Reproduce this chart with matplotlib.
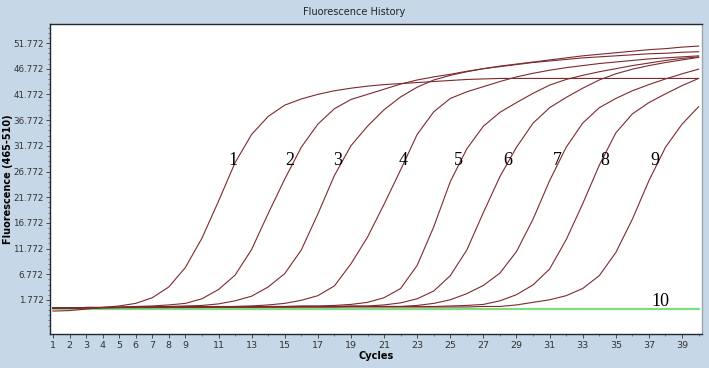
import numpy as np
import matplotlib.pyplot as plt
from matplotlib.ticker import MultipleLocator, FixedLocator

# data (cycle 1..40)
cycles = list(range(1, 41))

curve1 = [-0.4, -0.3, 0.0, 0.3, 0.6, 1.1, 2.2, 4.3, 8.1, 13.8, 21.0, 28.5, 34.0, 37.5, 39.7,
          40.9, 41.8, 42.5, 43.0, 43.4, 43.7, 43.9, 44.1, 44.3, 44.5, 44.7, 44.8, 44.9, 44.9,
          44.9, 44.9, 44.9, 44.9, 44.9, 44.9, 44.9, 44.9, 44.9, 44.9, 44.9]
curve2 = [0.2, 0.2, 0.3, 0.3, 0.4, 0.5, 0.6, 0.8, 1.1, 2.0, 3.8, 6.6, 11.6, 18.6, 25.3, 31.5,
          36.0, 39.0, 40.8, 41.8, 42.8, 43.8, 44.6, 45.2, 45.7, 46.3, 46.8, 47.3, 47.7, 48.1,
          48.5, 48.9, 49.3, 49.6, 49.9, 50.2, 50.5, 50.7, 51.0, 51.2]
curve3 = [0.2, 0.2, 0.3, 0.3, 0.3, 0.4, 0.4, 0.5, 0.6, 0.7, 1.0, 1.6, 2.5, 4.3, 6.9, 11.5,
          18.5, 26.0, 31.8, 35.6, 38.8, 41.3, 43.2, 44.6, 45.5, 46.2, 46.8, 47.2, 47.6, 48.0,
          48.3, 48.6, 48.9, 49.1, 49.3, 49.5, 49.7, 49.8, 50.0, 50.1]
curve4 = [0.2, 0.2, 0.3, 0.3, 0.3, 0.4, 0.4, 0.4, 0.4, 0.5, 0.5, 0.5, 0.6, 0.8, 1.1, 1.7,
          2.6, 4.5, 8.8, 14.0, 20.4, 27.1, 34.0, 38.4, 41.0, 42.3, 43.3, 44.3, 45.2, 45.9,
          46.5, 47.0, 47.4, 47.8, 48.1, 48.4, 48.7, 48.9, 49.1, 49.3]
curve5 = [0.2, 0.2, 0.3, 0.3, 0.3, 0.3, 0.4, 0.4, 0.4, 0.4, 0.4, 0.5, 0.5, 0.5, 0.5, 0.6,
          0.6, 0.7, 0.9, 1.3, 2.2, 4.0, 8.5, 16.0, 24.8, 31.2, 35.6, 38.3, 40.2, 42.0,
          43.6, 44.7, 45.5, 46.2, 46.8, 47.4, 47.9, 48.4, 48.8, 49.1]
curve6 = [0.2, 0.2, 0.3, 0.3, 0.3, 0.3, 0.3, 0.4, 0.4, 0.4, 0.4, 0.4, 0.4, 0.5, 0.5, 0.5,
          0.5, 0.5, 0.6, 0.6, 0.8, 1.2, 2.0, 3.5, 6.5, 11.5, 18.8, 25.8, 31.5, 36.2,
          39.2, 41.2, 43.0, 44.6, 45.8, 46.7, 47.4, 48.0, 48.5, 49.0]
curve7 = [0.2, 0.2, 0.2, 0.3, 0.3, 0.3, 0.3, 0.3, 0.4, 0.4, 0.4, 0.4, 0.4, 0.4, 0.4, 0.5,
          0.5, 0.5, 0.5, 0.5, 0.5, 0.5, 0.7, 1.1, 1.8, 3.0, 4.6, 7.0, 11.2, 17.5,
          25.0, 31.5, 36.2, 39.2, 41.0, 42.5, 43.7, 44.8, 45.8, 46.7]
curve8 = [0.2, 0.2, 0.2, 0.3, 0.3, 0.3, 0.3, 0.3, 0.3, 0.4, 0.4, 0.4, 0.4, 0.4, 0.4, 0.4,
          0.4, 0.4, 0.5, 0.5, 0.5, 0.5, 0.5, 0.5, 0.6, 0.7, 0.9, 1.6, 2.8, 4.7,
          7.8, 13.5, 20.5, 28.0, 34.3, 38.0, 40.2, 41.9, 43.5, 44.9]
curve9 = [0.2, 0.2, 0.2, 0.2, 0.3, 0.3, 0.3, 0.3, 0.3, 0.3, 0.4, 0.4, 0.4, 0.4, 0.4, 0.4,
          0.4, 0.4, 0.4, 0.4, 0.4, 0.4, 0.4, 0.4, 0.4, 0.4, 0.5, 0.5, 0.8, 1.3,
          1.8, 2.6, 4.0, 6.5, 11.0, 17.5, 25.0, 31.5, 36.0, 39.4]
curve10 = [0.1, 0.1, 0.1, 0.1, 0.1, 0.1, 0.1, 0.1, 0.1, 0.1, 0.1, 0.1, 0.1, 0.1, 0.1, 0.1,
           0.1, 0.1, 0.1, 0.1, 0.1, 0.1, 0.1, 0.1, 0.1, 0.1, 0.1, 0.1, 0.1, 0.1,
           0.1, 0.1, 0.1, 0.1, 0.1, 0.1, 0.1, 0.1, 0.1, 0.1]

red_curves = [curve1, curve2, curve3, curve4, curve5, curve6, curve7, curve8, curve9]

# curve labels (cycle, fluorescence) where the numbers sit
label_text = ['1', '2', '3', '4', '5', '6', '7', '8', '9', '10']
label_x = [11.87, 15.32, 18.22, 22.14, 25.47, 28.49, 31.45, 34.35, 37.37, 37.67]
label_y = [29.0, 29.0, 29.0, 29.0, 29.0, 29.0, 29.0, 29.0, 29.0, 1.4]

ytick_vals = [1.772, 6.772, 11.772, 16.772, 21.772, 26.772, 31.772, 36.772, 41.772, 46.772, 51.772]
xtick_labels = [1, 2, 3, 4, 5, 6, 7, 8, 9, 11, 13, 15, 17, 19, 21, 23, 25, 27, 29, 31, 33, 35, 37, 39]

bg = '#c6d7e7'
fig = plt.figure(figsize=(7.09, 3.68), dpi=100, facecolor=bg)
ax = fig.add_axes([0.0705, 0.0924, 0.9195, 0.8424])
ax.set_facecolor('white')

ax.plot(cycles, curve10, color='#80dc80', lw=1.6, zorder=2)
for c in red_curves:
    ax.plot(cycles, c, color='#7d2a2e', lw=0.8, zorder=3)

for t, x, y in zip(label_text, label_x, label_y):
    ax.text(x, y, t, fontsize=13, family='Liberation Serif', ha='center', va='center', zorder=4)

ax.set_xlim(0.82, 40.2)
ax.set_ylim(-4.86, 55.5)

ax.xaxis.set_major_locator(FixedLocator(xtick_labels))
ax.xaxis.set_minor_locator(MultipleLocator(1))
ax.set_xticklabels([str(v) for v in xtick_labels])
ax.yaxis.set_major_locator(FixedLocator(ytick_vals))
ax.yaxis.set_minor_locator(FixedLocator(np.arange(-3.228, 55, 1.0)))
ax.set_yticklabels(['%.3f' % v for v in ytick_vals])

ax.tick_params(axis='both', which='major', labelsize=6.3, colors='#333333', length=3, width=0.6)
ax.tick_params(axis='both', which='minor', length=1.5, width=0.5, colors='#555555')
ax.tick_params(axis='x', pad=2, labelsize=6.8)
ax.tick_params(axis='y', pad=1.5)

for s in ax.spines.values():
    s.set_color('#222831')
    s.set_linewidth(1.0)
ax.spines['right'].set_color('#9aa4ad')

ax.set_xlabel('Cycles', fontsize=7, fontweight='bold', labelpad=1)
ax.set_ylabel('Fluorescence (465-510)', fontsize=7, fontweight='bold')
ax.yaxis.set_label_coords(-0.057, 0.5)
fig.text(0.5, 0.967, 'Fluorescence History', ha='center', va='center', fontsize=7, color='#222222')

fig.savefig('out.png', dpi=100, facecolor=bg)
